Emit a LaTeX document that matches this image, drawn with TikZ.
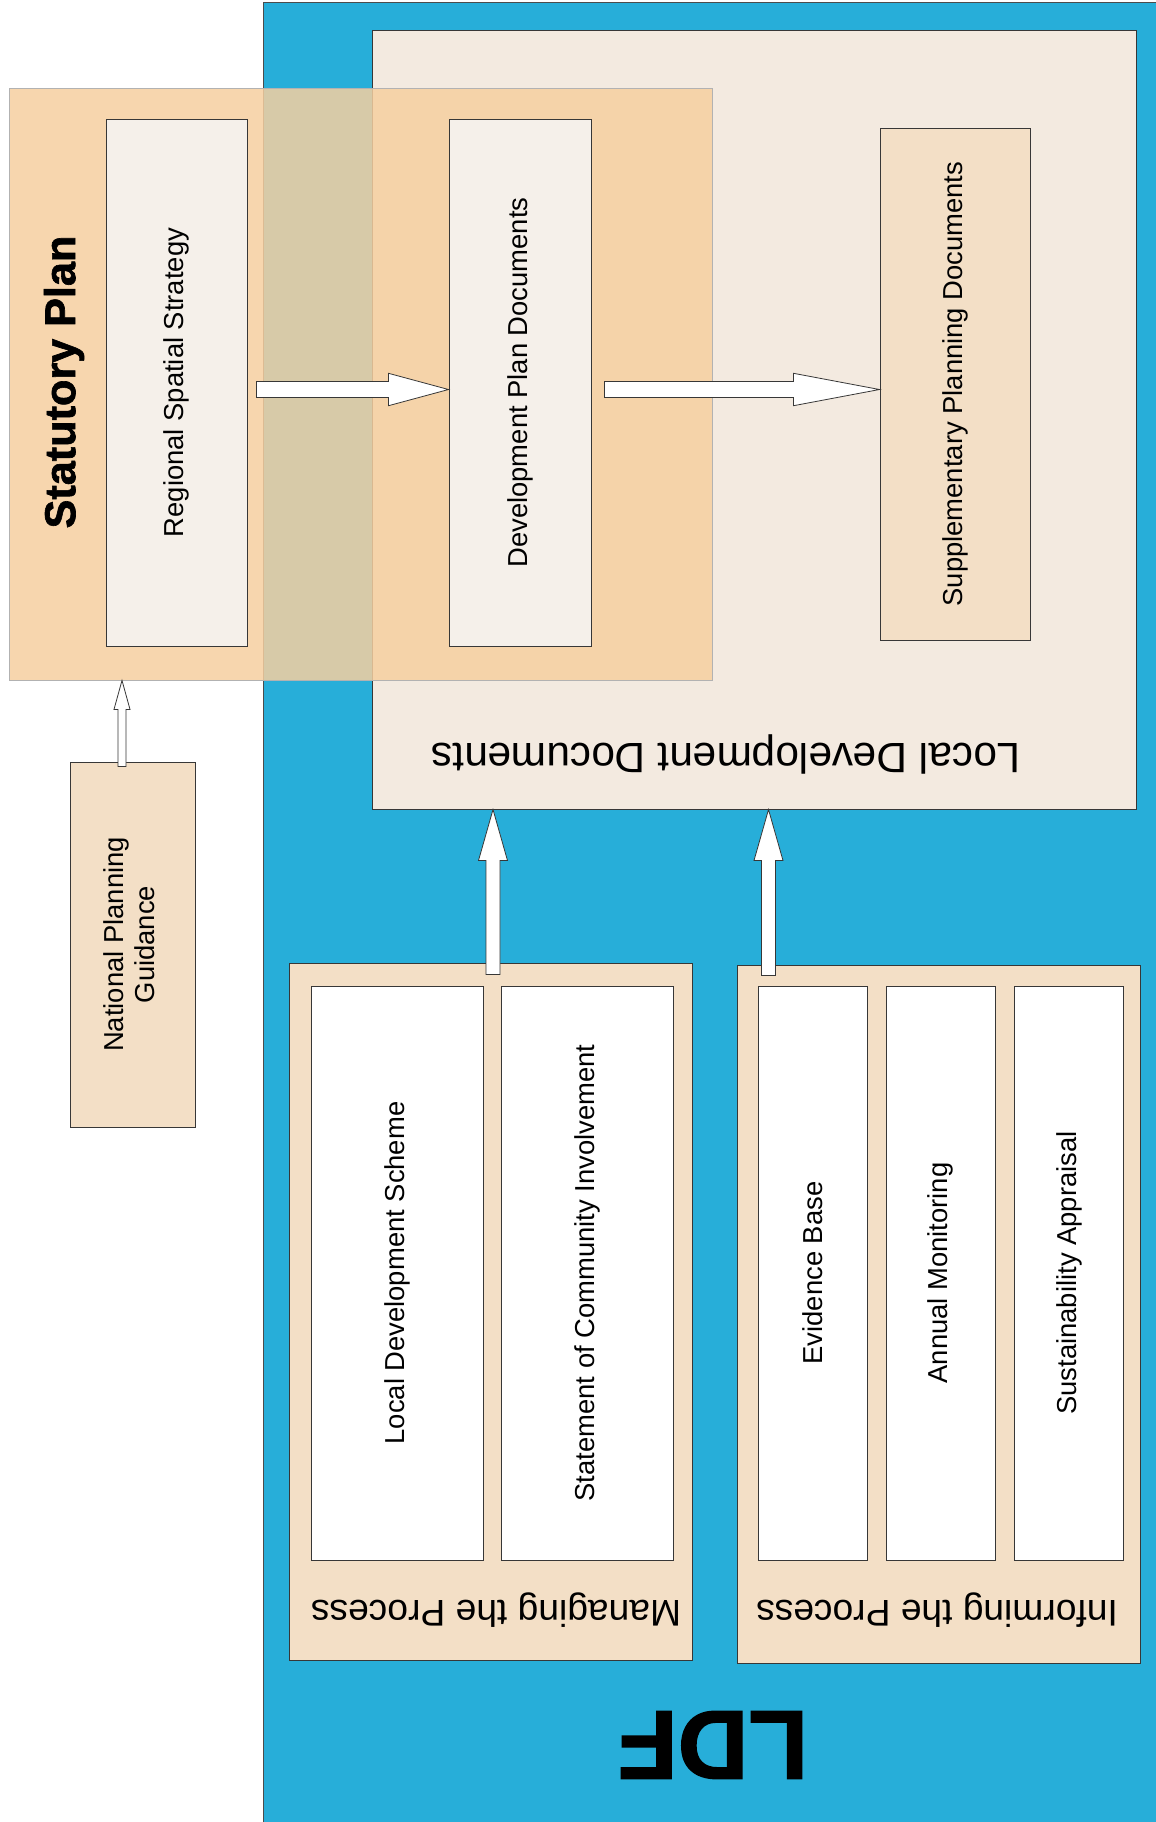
\documentclass[tikz,border=0pt]{standalone}
\usepackage{fontspec}
\setmainfont{Liberation Sans}
\newfontfamily\heavyfont{Liberation Sans}[BoldFeatures={FakeBold=1.5}]
\usetikzlibrary{positioning}
\usetikzlibrary{calc}

\definecolor{ldfblue}{RGB}{39,174,217}
\definecolor{lddfill}{RGB}{243,234,224}
\definecolor{statfill}{RGB}{246,207,160}
\definecolor{paper}{RGB}{245,240,234}
\definecolor{tan}{RGB}{243,223,198}
\definecolor{linegray}{RGB}{55,55,55}

\tikzstyle{box}=[draw=linegray, line width=0.5pt, inner sep=0pt, font=\fontsize{13.7}{15.8}\selectfont]
\tikzstyle{blockarrow}=[draw=linegray, line width=0.4pt, fill=white, line join=miter]
\tikzstyle{caption}=[font=\fontsize{18.6}{22}\selectfont, rotate=180]

% from, to, shaft half width, head half width, head length
\newcommand{\rightblock}[5]{%
  \draw[blockarrow] let \p1=(#1), \p2=(#2) in
    (\x1,\y1+#3) -- (\x2-#5,\y1+#3) -- (\x2-#5,\y1+#4) -- (\x2,\y1)
    -- (\x2-#5,\y1-#4) -- (\x2-#5,\y1-#3) -- (\x1,\y1-#3) -- cycle;}
\newcommand{\upblock}[5]{%
  \draw[blockarrow] let \p1=(#1), \p2=(#2) in
    (\x1+#3,\y1) -- (\x1+#3,\y2-#5) -- (\x1+#4,\y2-#5) -- (\x1,\y2)
    -- (\x1-#4,\y2-#5) -- (\x1-#3,\y2-#5) -- (\x1-#3,\y1) -- cycle;}

\begin{document}
\begin{tikzpicture}[x=0.5pt, y=-0.5pt]
\useasboundingbox (0,0) rectangle (1156,1822);
\fill[white] (0,0) rectangle (1156,1822);

%LDF
\node[draw=black!70, fill=ldfblue, line width=0.5pt, minimum width=450pt, minimum height=915pt, inner sep=0pt, anchor=north west] (ldf) at (263,2) {};
\node[font=\fontsize{49}{52}\selectfont\heavyfont\bfseries, rotate=180] (ldftitle) at (713,1745) {LDF};

%Local development documents
\node[box, fill=lddfill, minimum width=382pt, minimum height=389.5pt] (ldd) at (754,419.5) {};
\node[caption, font=\fontsize{21.2}{24}\selectfont] (lddtitle) at (726,754) {Local Development Documents};

%Statutory plan
\node[draw=black!30, fill=statfill, fill opacity=0.85, line width=0.4pt, minimum width=351.5pt, minimum height=296pt, inner sep=0pt] (statplan) at (360.5,384) {};
\node[font=\fontsize{21.6}{24}\selectfont\heavyfont\bfseries, rotate=90] (stattitle) at (64,382) {Statutory Plan};

\foreach \pos/\name/\bw/\bh/\colr/\txt in {{(176.5,382.5)/rss/70.5/263.5/paper/Regional Spatial Strategy}, {(520,382.5)/dpd/71/263.5/paper/Development Plan Documents}, {(955,384)/spd/75/256/tan/Supplementary Planning Documents}}
    \node[box, fill=\colr, minimum width=\bw pt, minimum height=\bh pt] (\name) at \pos {\rotatebox{90}{\txt}};

\node[box, fill=tan, minimum width=62.5pt, minimum height=182.5pt] (npg) at (132.5,944.5) {\rotatebox{90}{\begin{tabular}{@{}c@{}}National Planning\\Guidance\end{tabular}}};

%Process boxes
\node[box, fill=tan, minimum width=201.5pt, minimum height=348.5pt] (managing) at (490.5,1311.5) {};
\node[box, fill=tan, minimum width=201.5pt, minimum height=349pt] (informing) at (938.5,1314) {};
\node[caption] (mantitle) at (496,1610) {Managing the Process};
\node[caption] (inftitle) at (937,1610) {Informing the Process};

\foreach \xc/\name/\bw/\txt in {397/lds/86/Local Development Scheme, 587/sci/86/Statement of Community Involvement, 812.5/eb/54.5/Evidence Base, 940.5/am/54.5/Annual Monitoring, 1069/sa/54.5/Sustainability Appraisal}
    \node[box, fill=white, minimum width=\bw pt, minimum height=287pt] (\name) at (\xc,1273) {\rotatebox{90}{\txt}};

%Arrows
\rightblock{$(rss.east)+(9,7)$}{dpd.west}{4pt}{8.1pt}{30pt}
\rightblock{$(dpd.east)+(13,7)$}{spd.west}{4pt}{8.1pt}{43pt}
\upblock{$(npg.north)+(-10.5,5)$}{statplan.south}{2pt}{4pt}{14.5pt}
\upblock{$(managing.north)+(2.5,12)$}{ldd.south}{3.5pt}{7.25pt}{25.5pt}
\upblock{$(informing.north west)+(32,11)$}{ldd.south}{3.5pt}{7.25pt}{25.5pt}

\end{tikzpicture}
\end{document}
